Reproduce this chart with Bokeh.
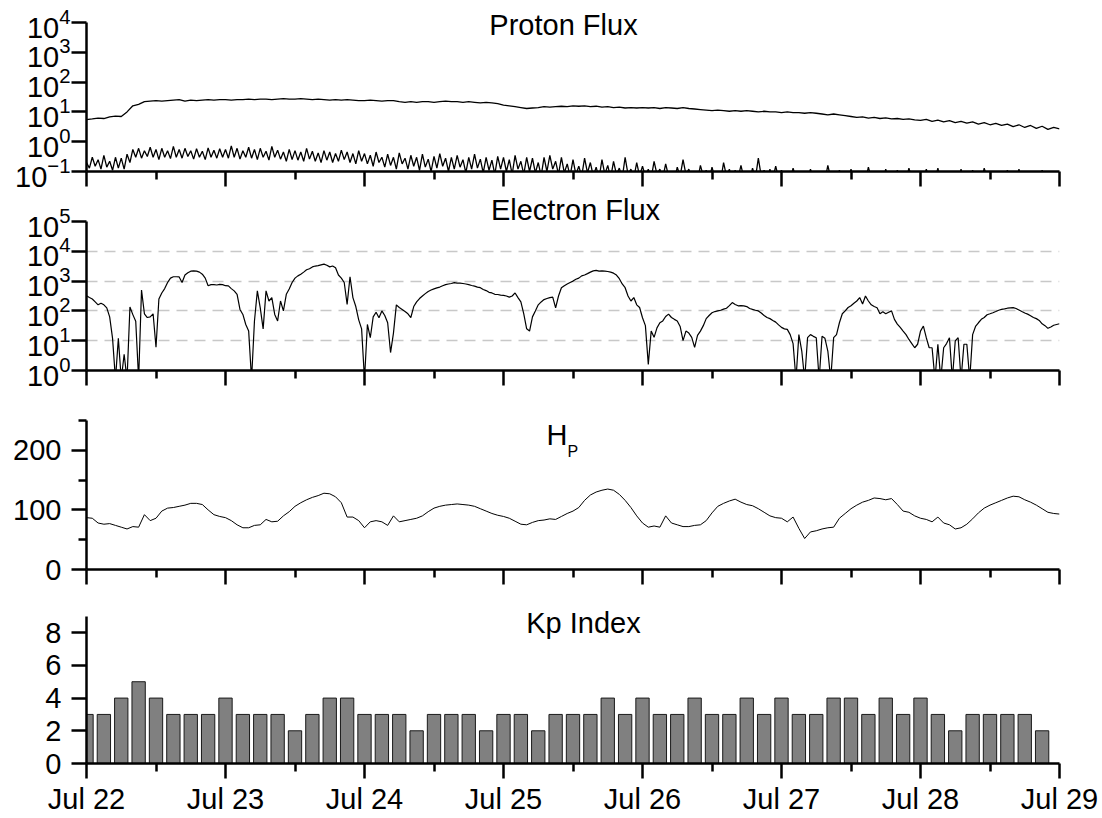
import numpy as np
from bokeh.plotting import figure
from bokeh.layouts import column
from bokeh.models import Range1d, FixedTicker, Label, CustomJSTickFormatter, LogTickFormatter
from bokeh.embed import file_html
from bokeh.resources import INLINE

# ---------------- data ----------------
# Kp index, 3-hourly from Jul 22 00:00
kp_values = [3, 3, 4, 5, 4, 3, 3, 3,
             4, 3, 3, 3, 2, 3, 4, 4,
             3, 3, 3, 2, 3, 3, 3, 2,
             3, 3, 2, 3, 3, 3, 4, 3,
             4, 3, 3, 4, 3, 3, 4, 3,
             4, 3, 3, 4, 4, 3, 4, 3,
             4, 3, 2, 3, 3, 3, 3, 2]

# Hp (nT), hourly from Jul 22 00:00 to Jul 29 00:00
hp_values = [87, 86, 78, 76, 77, 74, 71, 68, 72, 71, 92, 82, 86, 98, 103, 104, 106, 108, 111, 111, 109, 100, 92, 89,
             87, 82, 75, 70, 70, 74, 75, 84, 80, 81, 90, 97, 106, 112, 117, 121, 124, 128, 127, 122, 112, 88, 88, 82,
             70, 80, 82, 80, 74, 90, 80, 82, 84, 86, 90, 97, 103, 106, 108, 109, 110, 109, 108, 106, 102, 98, 94, 91,
             89, 86, 81, 76, 75, 79, 82, 83, 85, 84, 89, 94, 98, 104, 116, 125, 130, 133, 135, 133, 126, 116, 104, 90,
             78, 71, 73, 71, 90, 78, 75, 72, 72, 74, 75, 82, 95, 106, 111, 115, 118, 113, 109, 107, 102, 96, 90, 87,
             86, 80, 88, 69, 52, 63, 65, 68, 70, 71, 86, 94, 102, 108, 113, 116, 120, 119, 117, 119, 109, 98, 96, 90,
             86, 84, 80, 88, 78, 75, 68, 70, 76, 85, 95, 103, 108, 112, 116, 120, 123, 122, 117, 113, 108, 102, 96, 94,
             93]

# Electron flux, half-hourly from Jul 22 00:00 to Jul 29 00:00
e_flux = [320, 280, 250, 200, 160, 180, 160, 126, 63, 12, 0.5, 12, 0.5, 3.5, 0.5, 135,
          75, 45, 0.5, 500, 80, 60, 63, 80, 6, 250, 400, 560, 900, 1260, 1400, 1400,
          1380, 900, 1600, 1900, 2150, 2200, 2150, 2000, 1700, 1260, 700, 760, 760, 740, 780, 760,
          700, 690, 560, 470, 360, 112, 76, 35, 21, 0.5, 46, 470, 126, 25, 470, 215,
          280, 76, 46, 215, 100, 360, 540, 900, 1260, 1500, 1700, 2000, 2400, 2600, 3000, 3200,
          3300, 3500, 3700, 3400, 3000, 3200, 2800, 1600, 1260, 900, 165, 1400, 280, 140, 50, 25,
          0.5, 35, 12.6, 63, 90, 59, 100, 70, 40, 4, 18, 160, 130, 112, 95, 80,
          60, 140, 200, 260, 316, 380, 450, 500, 550, 590, 630, 700, 760, 800, 830, 890,
          850, 850, 830, 800, 760, 710, 680, 630, 600, 525, 480, 420, 400, 360, 355, 340,
          330, 316, 290, 316, 400, 280, 200, 80, 25, 21, 63, 100, 160, 200, 240, 260,
          280, 290, 126, 316, 600, 700, 800, 900, 1000, 1150, 1260, 1500, 1600, 1780, 2000, 2200,
          2300, 2150, 2200, 2150, 2100, 2000, 1850, 1600, 1200, 800, 600, 316, 215, 280, 160, 130,
          59, 32, 1.6, 21, 13, 27, 40, 46, 65, 78, 60, 52, 46, 30, 10, 21,
          18, 13, 6, 15, 21, 32, 55, 70, 87, 95, 100, 105, 115, 123, 150, 190,
          165, 148, 150, 148, 140, 120, 112, 105, 100, 85, 70, 60, 55, 48, 42, 34,
          28, 25, 24, 16, 8, 0.5, 16, 4.5, 0.5, 12.6, 16, 14, 12.6, 0.5, 14, 12,
          4.5, 0.5, 12.6, 16, 40, 80, 100, 130, 148, 180, 215, 280, 170, 316, 215, 160,
          140, 128, 80, 93, 80, 90, 100, 52, 36, 28, 21, 16, 11, 8, 5.8, 7.6,
          21, 31, 12.6, 5.8, 5.8, 0.5, 7.6, 0.5, 5.8, 8, 12.6, 0.5, 9.8, 12.6, 0.5, 7.6,
          7.6, 0.5, 16, 30, 40, 52, 60, 74, 80, 87, 95, 105, 112, 117, 123, 126,
          129, 120, 107, 95, 85, 78, 69, 60, 55, 48, 37, 32, 26, 29, 33, 35,
          37]

# Proton flux, upper channel, hourly
p_high = [5.5, 5.8, 6.2, 6.0, 6.8, 7.2, 7.0, 10, 16, 18, 22, 23, 24, 23, 24, 25, 26, 23, 25, 24, 25, 26, 25, 26,
          26, 25, 26, 26, 27, 26, 27, 27, 26, 27, 28, 27, 27, 28, 27, 26, 27, 26, 25, 26, 25, 26, 25, 24,
          24, 25, 24, 23, 24, 24, 22, 21, 22, 21, 22, 22, 21, 22, 23, 22, 22, 21, 22, 21, 20, 21, 20, 19,
          17, 16, 15, 14, 13, 13.5, 14, 15, 14.5, 15, 15.5, 15, 16, 15.5, 16, 15, 15.5, 14.5, 15, 14, 14.5, 13.5, 14, 13.5,
          14, 13.5, 14, 13, 14, 13.5, 13, 14, 13, 12.5, 12, 11.5, 11, 11.5, 11, 10.5, 11, 10.5, 11, 10.5, 10, 10.5, 10, 10,
          9.5, 10, 9.5, 9.5, 9, 9.5, 9, 8.5, 8, 8.5, 8, 7.5, 7, 6.5, 6.8, 6.2, 6.5, 6, 6.3, 5.8, 6, 5.6, 5.8, 5.4,
          5.2, 5.6, 4.8, 5.3, 4.6, 5.1, 4.4, 4.8, 4.2, 4.6, 3.9, 4.4, 3.7, 4.1, 3.5, 3.9, 3.2, 3.7, 3.0, 3.5, 2.8, 3.3, 2.6, 3.0,
          2.7]

# Proton flux, lower channel, half-hourly
p_low = [0.2, 0.13, 0.3, 0.15, 0.25, 0.12, 0.35, 0.14,
         0.22, 0.11, 0.3, 0.13, 0.28, 0.12, 0.38, 0.2,
         0.55, 0.3, 0.6, 0.28, 0.5, 0.32, 0.65, 0.3,
         0.55, 0.25, 0.6, 0.3, 0.5, 0.27, 0.7, 0.3,
         0.55, 0.28, 0.6, 0.32, 0.5, 0.26, 0.58, 0.3,
         0.48, 0.25, 0.62, 0.3, 0.52, 0.28, 0.58, 0.3,
         0.55, 0.28, 0.72, 0.3, 0.6, 0.26, 0.5, 0.3,
         0.65, 0.28, 0.55, 0.25, 0.6, 0.3, 0.48, 0.24,
         0.7, 0.3, 0.52, 0.26, 0.45, 0.22, 0.55, 0.25,
         0.5, 0.24, 0.45, 0.22, 0.6, 0.26, 0.48, 0.22,
         0.42, 0.2, 0.5, 0.24, 0.45, 0.2, 0.4, 0.22,
         0.52, 0.25, 0.45, 0.2, 0.4, 0.18, 0.5, 0.22,
         0.4, 0.18, 0.35, 0.15, 0.45, 0.2, 0.3, 0.14,
         0.38, 0.16, 0.3, 0.12, 0.42, 0.18, 0.28, 0.12,
         0.35, 0.15, 0.3, 0.11, 0.38, 0.14, 0.26, 0.1,
         0.32, 0.13, 0.4, 0.15, 0.28, 0.1, 0.3, 0.12,
         0.35, 0.14, 0.25, 0.09, 0.3, 0.12, 0.38, 0.13,
         0.26, 0.09, 0.3, 0.11, 0.24, 0.08, 0.32, 0.12,
         0.3, 0.1, 0.25, 0.08, 0.35, 0.12, 0.22, 0.08,
         0.3, 0.1, 0.28, 0.09, 0.2, 0.07, 0.3, 0.1,
         0.35, 0.12, 0.22, 0.08, 0.3, 0.09, 0.18, 0.07,
         0.25, 0.08, 0.15, 0.07, 0.28, 0.09, 0.2, 0.07,
         0.14, 0.06, 0.25, 0.08, 0.16, 0.06, 0.22, 0.08,
         0.13, 0.06, 0.3, 0.08, 0.12, 0.06, 0.2, 0.07,
         0.15, 0.07, 0.12, 0.06, 0.22, 0.08, 0.12, 0.06,
         0.18, 0.07, 0.1, 0.05, 0.14, 0.07, 0.25, 0.08,
         0.12, 0.06, 0.1, 0.05, 0.16, 0.07, 0.11, 0.05,
         0.14, 0.06, 0.1, 0.05, 0.2, 0.07, 0.12, 0.05,
         0.11, 0.06, 0.16, 0.06, 0.1, 0.05, 0.13, 0.06,
         0.28, 0.07, 0.11, 0.05, 0.12, 0.06, 0.15, 0.06,
         0.11, 0.06, 0.09, 0.05, 0.13, 0.06, 0.1, 0.05,
         0.08, 0.05, 0.12, 0.06, 0.09, 0.05, 0.1, 0.05,
         0.16, 0.06, 0.09, 0.05, 0.11, 0.05, 0.08, 0.05,
         0.12, 0.06, 0.09, 0.05, 0.1, 0.05, 0.14, 0.06,
         0.08, 0.05, 0.1, 0.05, 0.12, 0.05, 0.09, 0.05,
         0.11, 0.05, 0.08, 0.05, 0.13, 0.06, 0.09, 0.05,
         0.1, 0.05, 0.12, 0.06, 0.08, 0.05, 0.13, 0.05,
         0.09, 0.05, 0.1, 0.05, 0.08, 0.05, 0.12, 0.05,
         0.09, 0.05, 0.11, 0.05, 0.08, 0.05, 0.13, 0.06,
         0.09, 0.05, 0.1, 0.05, 0.08, 0.05, 0.11, 0.05,
         0.09, 0.05, 0.12, 0.05, 0.08, 0.05, 0.1, 0.05,
         0.09, 0.05, 0.11, 0.05, 0.08, 0.05, 0.1, 0.05,
         0.09]

x_tick_labels = ["Jul 22", "Jul 23", "Jul 24", "Jul 25", "Jul 26", "Jul 27", "Jul 28", "Jul 29"]
p_tick_values = [0.1, 1, 10, 100, 1000, 10000]
e_tick_values = [1, 10, 100, 1000, 10000, 100000]
e_grid_values = [10, 100, 1000, 10000]
hp_ticks = [0, 100, 200]
hp_minor_ticks = [50, 150, 250]
kp_ticks = [0, 2, 4, 6, 8]

# ---------------- time axes ----------------
HOUR = 3600 * 1000.0
DAY = 24 * HOUR
T0 = float(np.datetime64("2012-07-22T00:00", "ms").astype(np.int64))
t_hour = T0 + np.arange(len(hp_values)) * HOUR
t_phigh = T0 + np.arange(len(p_high)) * HOUR
t_half = T0 + np.arange(len(e_flux)) * HOUR / 2
t_plow = T0 + np.arange(len(p_low)) * HOUR / 2
t_kp = T0 + np.arange(len(kp_values)) * 3 * HOUR
day_ticks = [T0 + k * DAY for k in range(len(x_tick_labels))]
half_ticks = [T0 + (k + 0.5) * DAY for k in range(len(x_tick_labels) - 1)]

FONT = "Liberation Sans"
xr = Range1d(T0, T0 + 7 * DAY)
AXIS_PX = 149.0   # height of every y axis, in pixels


def base_fig(height, y_range, y_type, bounds, top, bottom):
    p = figure(width=1102, height=height, x_range=xr, y_range=y_range, y_axis_type=y_type,
               output_backend="svg", toolbar_location=None,
               min_border_left=86, min_border_right=43, min_border_top=top, min_border_bottom=bottom)
    p.outline_line_color = None
    p.xgrid.visible = False
    p.ygrid.visible = False
    p.background_fill_color = "white"
    p.border_fill_color = "white"
    for ax in (p.xaxis[0], p.yaxis[0]):
        ax.axis_line_width = 2.5
        ax.axis_line_color = "black"
        ax.major_tick_line_width = 2.5
        ax.minor_tick_line_width = 2.5
        ax.major_tick_line_color = "black"
        ax.minor_tick_line_color = "black"
        ax.major_tick_in = 0
        ax.major_tick_out = 15
        ax.minor_tick_in = 0
        ax.minor_tick_out = 8
        ax.major_label_text_font = FONT
        ax.major_label_text_font_size = "29px"
        ax.major_label_text_color = "black"
        ax.major_label_standoff = 10
    p.yaxis[0].bounds = bounds
    xa = p.xaxis[0]
    xa.ticker = FixedTicker(ticks=day_ticks, minor_ticks=half_ticks)
    xa.formatter = CustomJSTickFormatter(code="return '';")
    xa.major_label_text_font_size = "1px"
    xa.major_label_standoff = 0
    return p


def title(p, text, x, y, size="29px", align="center"):
    p.add_layout(Label(x=x, y=y, x_units="screen", y_units="screen", text=text,
                       text_align=align, text_baseline="middle", text_font=FONT,
                       text_font_size=size, text_color="black"))


# ---- Panel 1: proton flux   (frame 4..171, axis 22..171)
dec = AXIS_PX / 5.0
p1 = base_fig(193, Range1d(0.1, 10 ** (4 + 18 / dec)), "log", (0.1, 1e4), 4, 22)
p1.yaxis[0].ticker = FixedTicker(ticks=p_tick_values)
p1.yaxis[0].formatter = LogTickFormatter()
p1.yaxis[0].major_label_standoff = 1
p1.line(t_phigh, p_high, line_color="black", line_width=1.3)
p1.line(t_plow, p_low, line_color="black", line_width=1.3)
title(p1, "Proton Flux", 477, 147)

# ---- Panel 2: electron flux  (frame 195..370, axis 221..370)
p2 = base_fig(201, Range1d(1, 10 ** (5 + 26 / dec)), "log", (1, 1e5), 2, 24)
p2.yaxis[0].ticker = FixedTicker(ticks=e_tick_values)
p2.yaxis[0].formatter = LogTickFormatter()
p2.yaxis[0].major_label_standoff = 1
p2.ygrid.visible = True
p2.ygrid[0].ticker = FixedTicker(ticks=e_grid_values)
p2.ygrid[0].grid_line_color = "#c8c8c8"
p2.ygrid[0].grid_line_dash = "11 7"
p2.ygrid[0].grid_line_width = 1.5
p2.line(t_half, e_flux, line_color="black", line_width=1.2)
title(p2, "Electron Flux", 489, 161)

# ---- Panel 3: Hp  (frame 400..569, axis 420..569)
p3 = base_fig(193, Range1d(0, 250 + 20 * 250 / AXIS_PX), "linear", (0, 250), 6, 18)
p3.yaxis[0].ticker = FixedTicker(ticks=hp_ticks, minor_ticks=hp_minor_ticks)
p3.line(t_hour, hp_values, line_color="black", line_width=1.0)
title(p3, "H", 460, 135, align="left")
title(p3, "P", 481, 118, size="16px", align="left")

# ---- Panel 4: Kp  (frame 600..765, axis 616..765)
p4 = base_fig(230, Range1d(0, 9 + 16 * 9 / AXIS_PX), "linear", (0, 9), 13, 52)
p4.yaxis[0].ticker = FixedTicker(ticks=kp_ticks)
p4.vbar(x=t_kp, width=2.3 * HOUR, top=kp_values, bottom=0,
        fill_color="#808080", line_color="#1a1a1a", line_width=1)
title(p4, "Kp Index", 497, 141)
xa4 = p4.xaxis[0]
xa4.formatter = CustomJSTickFormatter(args=dict(labels=x_tick_labels), code="return labels[index];")
xa4.major_label_text_font_size = "29px"
xa4.major_label_standoff = 4

layout = column(p1, p2, p3, p4, spacing=0)
open("out.html", "w").write(file_html(layout, INLINE))
